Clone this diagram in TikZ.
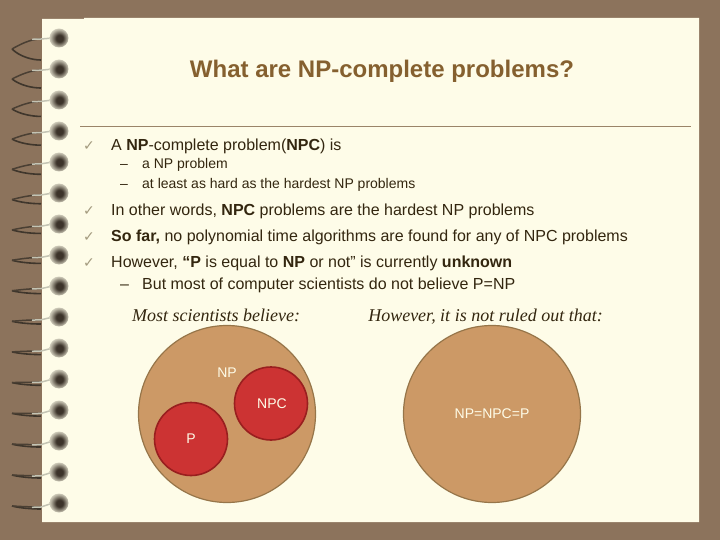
\documentclass[tikz,border=0pt]{standalone}
\usepackage{fontspec}
\setmainfont{Liberation Sans}
\newfontfamily\serifitalic{Liberation Serif}
\newfontfamily\symbolfont{DejaVu Sans}
\usetikzlibrary{positioning}
\definecolor{backbrown}{HTML}{8C735C}
\definecolor{pagecream}{HTML}{FEFCE8}
\definecolor{titlebrown}{HTML}{85602F}
\definecolor{textdark}{HTML}{33260F}
\definecolor{rulebrown}{HTML}{9A8468}
\definecolor{tickgray}{HTML}{A39A7E}
\definecolor{setfill}{HTML}{CC9966}
\definecolor{setline}{HTML}{967549}
\definecolor{redfill}{HTML}{CC3333}
\definecolor{redline}{HTML}{991F1F}
\definecolor{wiredark}{HTML}{3F362C}
\definecolor{wirelight}{HTML}{C4C4B4}
\pgfdeclareradialshading{ringball}{\pgfpoint{2bp}{-1bp}}{
    color(0bp)=(wiredark!95!black); color(9bp)=(wiredark!95!black);
    color(15bp)=(wiredark!72!pagecream); color(22bp)=(wiredark!38!pagecream);
    color(30bp)=(wiredark!8!pagecream)
}
\tikzset{
    x=1pt, y=-1pt, % one unit is one pixel of the slide, counted from the top
    item/.style={anchor=base west, inner sep=0pt, text=textdark, font=\fontsize{16}{16}\selectfont},
    subitem/.style={anchor=base west, inner sep=0pt, text=textdark, font=\fontsize{14}{14}\selectfont},
    tick/.style={anchor=base west, inner sep=0pt, text=tickgray, font=\fontsize{14}{14}\selectfont\symbolfont},
    heading/.style={anchor=base, inner sep=0pt, text=textdark, font=\fontsize{18}{18}\selectfont\serifitalic\itshape},
    bigset/.style={circle, draw=setline, line width=1.2pt, fill=setfill, minimum size=177pt, inner sep=0pt, text=pagecream, font=\fontsize{14}{14}\selectfont},
    smallset/.style={circle, draw=redline, line width=1.6pt, fill=redfill, minimum size=73pt, inner sep=0pt, text=pagecream, font=\fontsize{14}{14}\selectfont},
    setlabel/.style={inner sep=0pt, text=pagecream, font=\fontsize{14}{14}\selectfont},
}
\begin{document}
\begin{tikzpicture}
\useasboundingbox (0,0) rectangle (720,540);
\fill[backbrown] (0,0) rectangle (720,540);
\fill[pagecream] (42,19) -- (84,19) -- (84,18) -- (699,18) -- (699,522) -- (42,522) -- cycle;

% title and rule
\node[inner sep=0pt, text=titlebrown, font=\fontsize{24}{24}\selectfont\bfseries] (title) at (382,71.5) {What are NP-complete problems?};
\draw[rulebrown, line width=1.2pt] (80,126.5) -- (691,126.5);

% text
\node[tick] (t1) at (83,151) {✓};
\node[item] (a1) at (111,151) {A \textbf{NP}-complete problem(\textbf{NPC}) is};
\node[subitem] (d1) at (120,169) {--};
\node[subitem] (a2) at (142,169) {a NP problem};
\node[subitem] (d2) at (120,189) {--};
\node[subitem] (a3) at (142,189) {at least as hard as the hardest NP problems};
\node[tick] (t2) at (83,215) {✓};
\node[item] (b1) at (111,215) {In other words, \textbf{NPC} problems are the hardest NP problems};
\node[tick] (t3) at (83,241) {✓};
\node[item] (c1) at (111,241) {\textbf{So far,} no polynomial time algorithms are found for any of NPC problems};
\node[tick] (t4) at (83,267) {✓};
\node[item] (e1) at (111,267) {However, \textbf{“P} is equal to \textbf{NP} or not” is currently \textbf{unknown}};
\node[item] (d3) at (120,289) {--};
\node[item] (e2) at (142,289) {But most of computer scientists do not believe P=NP};

% the two pictures
\node[heading] (h1) at (216,321) {Most scientists believe:};
\node[heading] (h2) at (485.5,321) {However, it is not ruled out that:};
\node[bigset] (np) at (227,414) {};
\node[smallset] (npc) at (271,403.5) {\hspace{2pt}NPC};
\node[smallset] (p) at (191,439) {P};
\node[setlabel] (nplabel) at (227,373) {NP};
\node[bigset] (all) at (492,414) {NP=NPC=P};

% rings of the binding
\foreach \ringy [count=\ringno from 0] in {37,68,...,502} {
    \pgfmathsetmacro{\ringt}{\ringno/15}
    \pgfmathsetmacro{\tipy}{\ringy+4+8*(1-\ringt)^2}
    \pgfmathsetmacro{\lowy}{\ringy+7+16*(1-\ringt)^3}
    \pgfmathsetmacro{\upy}{\ringy+2+3*\ringt}
    \pgfmathsetmacro{\upbend}{0.55*\tipy+0.45*\upy}
    \pgfmathsetmacro{\lowbend}{0.3*\tipy+0.7*\lowy}
    \draw[wiredark, line width=1.6pt] (41,\lowy) .. controls (32,\lowy) and (20,\lowbend) .. (12,\tipy);
    \draw[wiredark!85!backbrown, line width=1.5pt] (12,\tipy) .. controls (20,\upbend) and (30,\upy) .. (41,\upy);
    \draw[wirelight, line width=1.5pt] (32,\upy+0.3) -- (41,\upy) -- (53,\ringy+1);
    \shade[shading=ringball] (59,\ringy+1) circle (9.5);
}
\end{tikzpicture}
\end{document}
